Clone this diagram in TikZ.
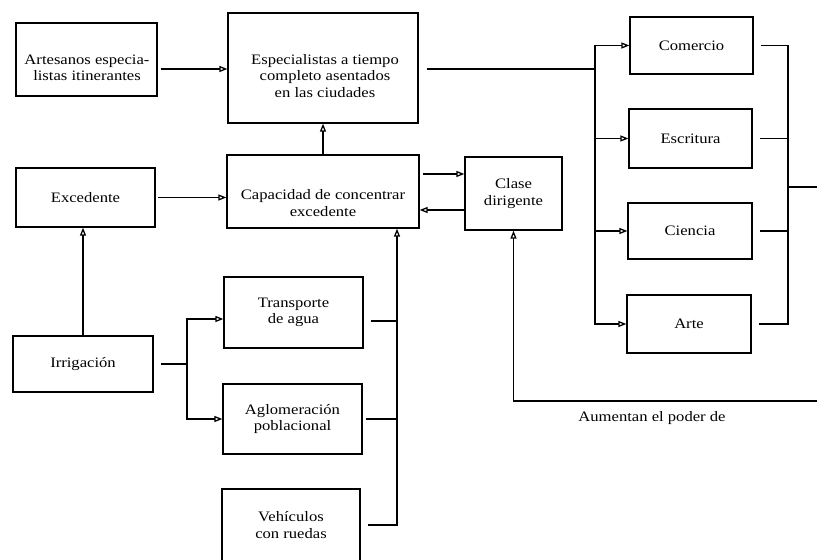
\documentclass[tikz,border=0pt]{standalone}
\usepackage{fontspec}
\setmainfont{Liberation Serif}[FakeStretch=1.15]
\usetikzlibrary{arrows.meta}
\begin{document}
\begin{tikzpicture}[x=1bp,y=-1bp,
  font=\fontsize{14.5}{16.5}\selectfont,
  box/.style={draw, line width=1.3bp, align=center, inner sep=0pt},
  txt/.style={align=center, inner sep=0pt},
  ln/.style={line width=1.3bp},
  arr/.style={ln, -{Triangle[open,length=8bp,width=6bp]}}]
\useasboundingbox (0,0) rectangle (817,560);

% boxes
\node[box, minimum width=141bp, minimum height=73bp] (art) at (86.5,59.5) {};
\node[txt] (artt) at (87,68) {Artesanos especia-\\listas itinerantes};
\node[box, minimum width=190bp, minimum height=110bp] (esp) at (323,68) {};
\node[txt] (espt) at (325,76) {Especialistas a tiempo\\completo asentados\\en las ciudades};
\node[box, minimum width=192bp, minimum height=73bp] (cap) at (323,191.5) {};
\node[txt] (capt) at (323,203) {Capacidad de concentrar\\excedente};
\node[box, minimum width=97bp, minimum height=73bp] (cla) at (513.5,193.5) {Clase\\dirigente};
\node[box, minimum width=139bp, minimum height=59bp] (exc) at (85.5,197.5) {Excedente};
\node[box, minimum width=140bp, minimum height=56bp] (irr) at (83,364) {Irrigación};
\node[box, minimum width=139bp, minimum height=71bp] (tra) at (293.5,312.5) {Transporte\\de agua};
\node[box, minimum width=139bp, minimum height=70bp] (agl) at (292.5,419) {Aglomeración\\poblacional};
\node[box, minimum width=138bp, minimum height=72bp] (veh) at (291,525) {Vehículos\\con ruedas};
\node[box, minimum width=123bp, minimum height=57bp] (com) at (691.5,45.5) {Comercio};
\node[box, minimum width=123bp, minimum height=59bp] (esc) at (690.5,138.5) {Escritura};
\node[box, minimum width=124bp, minimum height=56bp] (cie) at (690,231) {Ciencia};
\node[box, minimum width=124bp, minimum height=58bp] (arte) at (689,324) {Arte};
\node[txt] (aum) at (652,418) {Aumentan el poder de};

% top row
\draw[arr, shorten <=3bp] (art.east |- 0,69) -- (esp.west |- 0,69);
\draw[arr] (cap.north) -- (esp.south);

% especialistas to right branches
\coordinate (b1) at (595,69);
\draw[ln, shorten <=8bp] (esp.east |- b1) -- (b1);
\draw[arr] (b1) |- (com.west);
\draw[arr] (b1) |- (esc.west);
\draw[arr] (b1) |- (cie.west);
\draw[arr] (b1) |- (arte.west);

% right collector
\coordinate (rb) at (788,187);
\coordinate (rout) at (817,187);
\draw[ln, shorten <=7bp] (com.east) -| (rb);
\draw[ln, shorten <=7bp] (esc.east) -| (rb);
\draw[ln, shorten <=7bp] (cie.east) -| (rb);
\draw[ln, shorten <=7bp] (arte.east) -| (rb);
\draw[ln] (rb) -- (rout);

% feedback to clase dirigente
\coordinate (bin) at (817,401);
\coordinate (bl) at (cla.south |- bin);
\draw[arr] (bin) -- (bl) -- (cla.south);

% capacidad <-> clase
\draw[arr, shorten <=3bp] (cap.east |- 0,174) -- (cla.west |- 0,174);
\draw[arr] (cla.west |- 0,210) -- (cap.east |- 0,210);

% excedente, irrigacion
\draw[arr, shorten <=2bp] (exc.east) -- (cap.west |- exc.east);
\draw[arr] (irr.north) -- (exc.south -| irr.north);
\coordinate (ib) at (187,364);
\draw[ln, shorten <=7bp] (irr.east) -- (ib);
\draw[arr] (ib) |- (tra.west |- 0,319);
\draw[arr] (ib) |- (agl.west);

% lower collector into capacidad
\coordinate (lb) at (397,525);
\draw[arr, shorten <=7bp] (veh.east) -| (cap.south -| lb);
\draw[ln, shorten <=7bp] (tra.east |- 0,321) -- (lb |- 0,321);
\draw[ln, shorten <=3bp] (agl.east) -- (agl.east -| lb);
\end{tikzpicture}
\end{document}
